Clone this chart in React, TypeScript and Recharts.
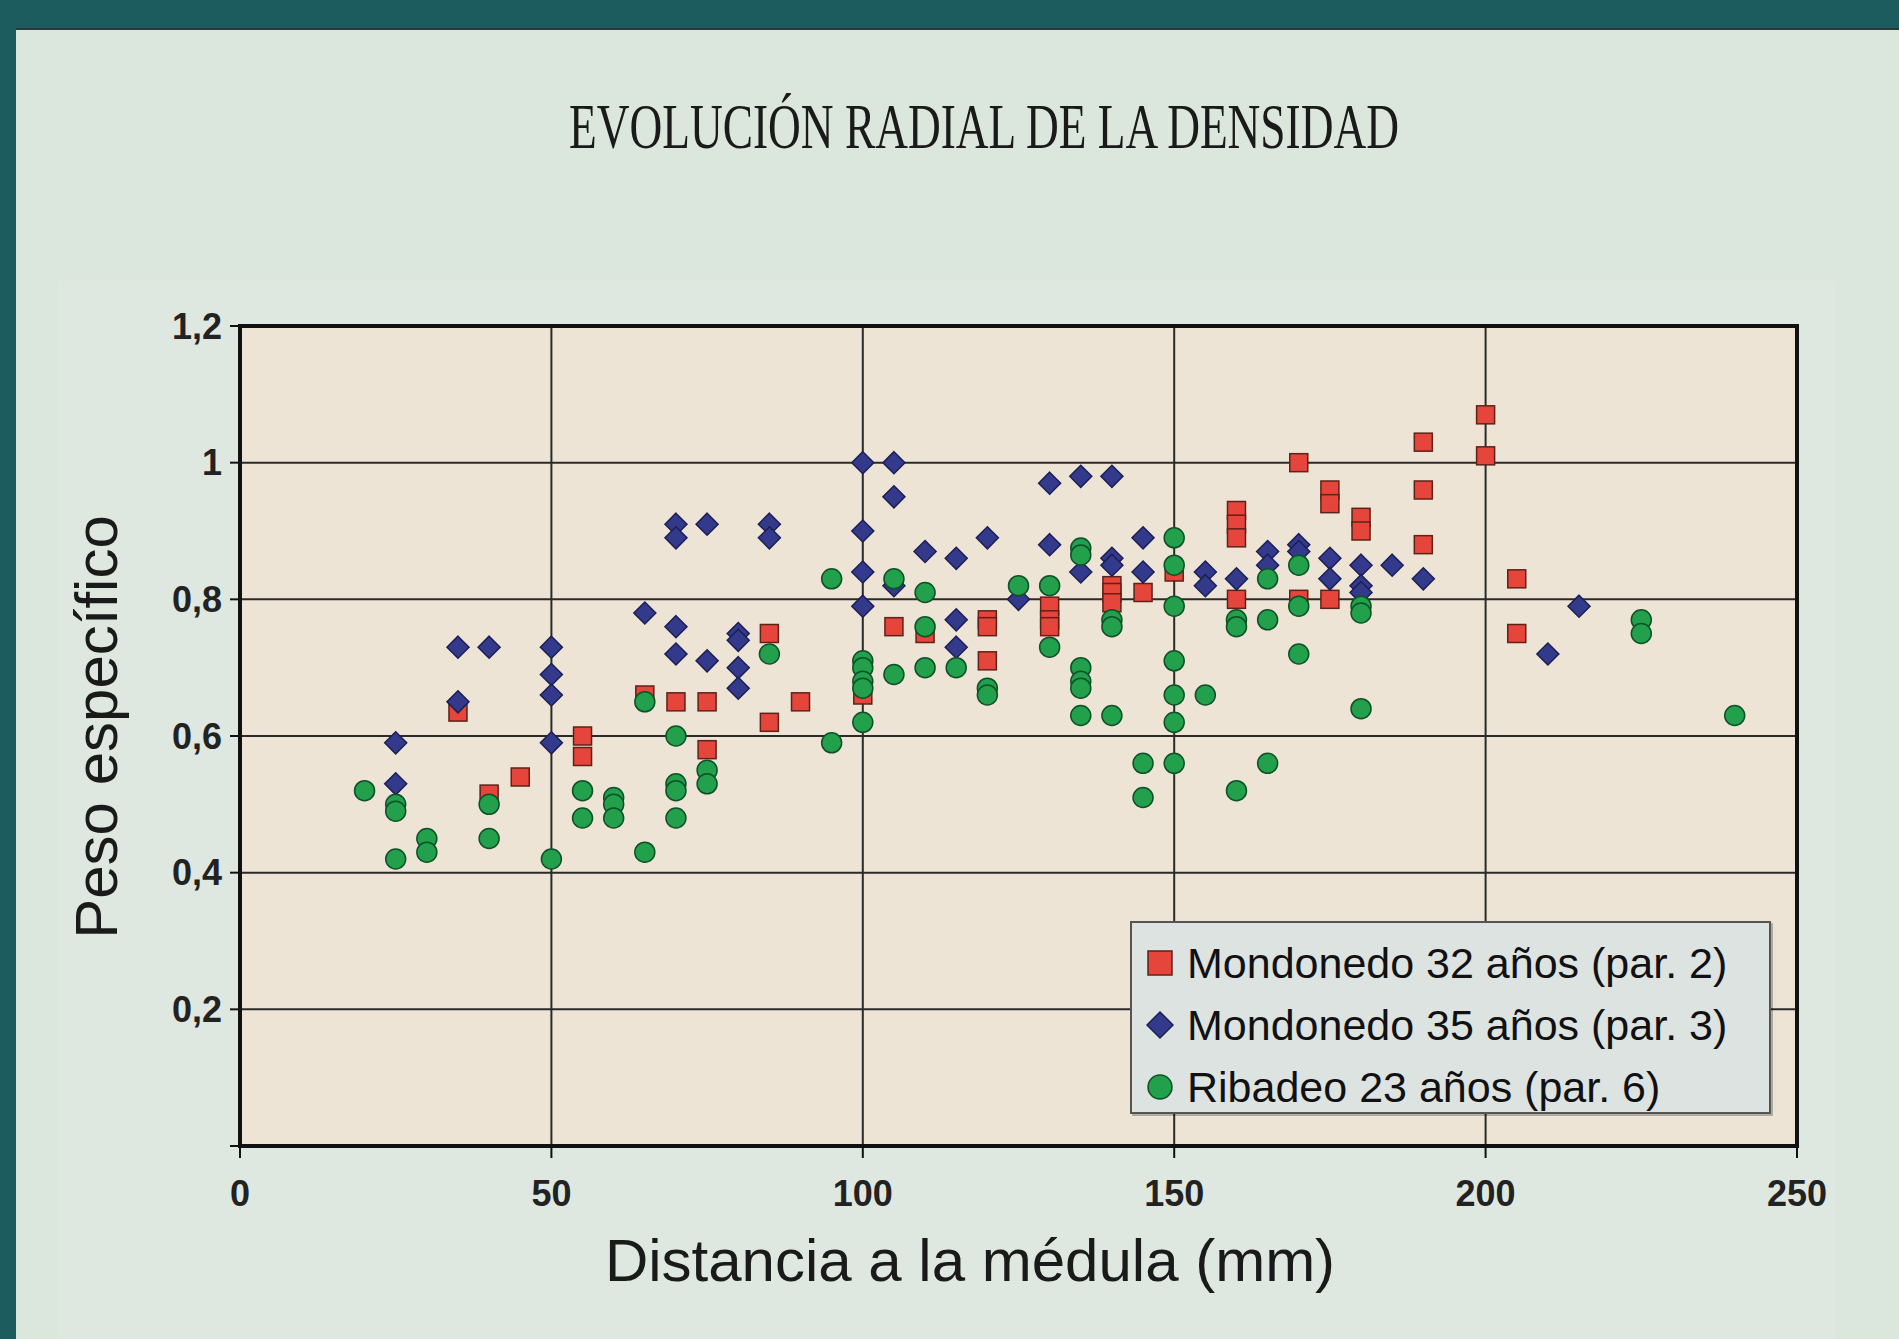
import React from 'react';
import {
  ScatterChart,
  Scatter,
  XAxis,
  YAxis,
  CartesianGrid,
  ReferenceArea,
  Legend,
  Label,
} from 'recharts';

const xTicks = [0, 50, 100, 150, 200, 250];
const yTicks = [0, 0.2, 0.4, 0.6, 0.8, 1, 1.2];

// Mondonedo 32 años (par. 2)
const mondonedo32 = [
  { x: 35, y: 0.635 }, { x: 40, y: 0.515 }, { x: 45, y: 0.54 }, { x: 55, y: 0.6 },
  { x: 55, y: 0.57 }, { x: 65, y: 0.66 }, { x: 70, y: 0.65 }, { x: 75, y: 0.65 },
  { x: 75, y: 0.58 }, { x: 85, y: 0.75 }, { x: 85, y: 0.62 }, { x: 90, y: 0.65 },
  { x: 100, y: 0.66 }, { x: 105, y: 0.76 }, { x: 110, y: 0.75 }, { x: 120, y: 0.77 },
  { x: 120, y: 0.76 }, { x: 120, y: 0.71 }, { x: 130, y: 0.79 }, { x: 130, y: 0.77 },
  { x: 130, y: 0.76 }, { x: 140, y: 0.82 }, { x: 140, y: 0.81 }, { x: 140, y: 0.795 },
  { x: 145, y: 0.81 }, { x: 150, y: 0.84 }, { x: 160, y: 0.93 }, { x: 160, y: 0.91 },
  { x: 160, y: 0.89 }, { x: 160, y: 0.8 }, { x: 170, y: 1.0 }, { x: 170, y: 0.8 },
  { x: 175, y: 0.96 }, { x: 175, y: 0.94 }, { x: 175, y: 0.8 }, { x: 180, y: 0.92 },
  { x: 180, y: 0.9 }, { x: 190, y: 1.03 }, { x: 190, y: 0.96 }, { x: 190, y: 0.88 },
  { x: 200, y: 1.07 }, { x: 200, y: 1.01 }, { x: 205, y: 0.83 }, { x: 205, y: 0.75 },
];

// Mondonedo 35 años (par. 3)
const mondonedo35 = [
  { x: 25, y: 0.59 }, { x: 25, y: 0.53 }, { x: 35, y: 0.73 }, { x: 35, y: 0.65 },
  { x: 40, y: 0.73 }, { x: 50, y: 0.73 }, { x: 50, y: 0.69 }, { x: 50, y: 0.66 },
  { x: 50, y: 0.59 }, { x: 65, y: 0.78 }, { x: 70, y: 0.91 }, { x: 70, y: 0.89 },
  { x: 70, y: 0.76 }, { x: 70, y: 0.72 }, { x: 75, y: 0.91 }, { x: 75, y: 0.71 },
  { x: 80, y: 0.75 }, { x: 80, y: 0.74 }, { x: 80, y: 0.7 }, { x: 80, y: 0.67 },
  { x: 85, y: 0.91 }, { x: 85, y: 0.89 }, { x: 100, y: 1.0 }, { x: 100, y: 0.9 },
  { x: 100, y: 0.84 }, { x: 100, y: 0.79 }, { x: 105, y: 1.0 }, { x: 105, y: 0.95 },
  { x: 105, y: 0.82 }, { x: 110, y: 0.87 }, { x: 115, y: 0.86 }, { x: 115, y: 0.77 },
  { x: 115, y: 0.73 }, { x: 120, y: 0.89 }, { x: 125, y: 0.8 }, { x: 130, y: 0.97 },
  { x: 130, y: 0.88 }, { x: 135, y: 0.98 }, { x: 135, y: 0.84 }, { x: 140, y: 0.98 },
  { x: 140, y: 0.86 }, { x: 140, y: 0.85 }, { x: 145, y: 0.89 }, { x: 145, y: 0.84 },
  { x: 155, y: 0.84 }, { x: 155, y: 0.82 }, { x: 160, y: 0.83 }, { x: 165, y: 0.87 },
  { x: 165, y: 0.85 }, { x: 170, y: 0.88 }, { x: 170, y: 0.87 }, { x: 175, y: 0.86 },
  { x: 175, y: 0.83 }, { x: 180, y: 0.85 }, { x: 180, y: 0.82 }, { x: 180, y: 0.81 },
  { x: 185, y: 0.85 }, { x: 190, y: 0.83 }, { x: 210, y: 0.72 }, { x: 215, y: 0.79 },
];

// Ribadeo 23 años (par. 6)
const ribadeo23 = [
  { x: 20, y: 0.52 }, { x: 25, y: 0.5 }, { x: 25, y: 0.49 }, { x: 25, y: 0.42 },
  { x: 30, y: 0.45 }, { x: 30, y: 0.43 }, { x: 40, y: 0.5 }, { x: 40, y: 0.45 },
  { x: 50, y: 0.42 }, { x: 55, y: 0.52 }, { x: 55, y: 0.48 }, { x: 60, y: 0.51 },
  { x: 60, y: 0.5 }, { x: 60, y: 0.48 }, { x: 65, y: 0.65 }, { x: 65, y: 0.43 },
  { x: 70, y: 0.6 }, { x: 70, y: 0.53 }, { x: 70, y: 0.52 }, { x: 70, y: 0.48 },
  { x: 75, y: 0.55 }, { x: 75, y: 0.53 }, { x: 85, y: 0.72 }, { x: 95, y: 0.83 },
  { x: 95, y: 0.59 }, { x: 100, y: 0.71 }, { x: 100, y: 0.7 }, { x: 100, y: 0.68 },
  { x: 100, y: 0.67 }, { x: 100, y: 0.62 }, { x: 105, y: 0.83 }, { x: 105, y: 0.69 },
  { x: 110, y: 0.81 }, { x: 110, y: 0.76 }, { x: 110, y: 0.7 }, { x: 115, y: 0.7 },
  { x: 120, y: 0.67 }, { x: 120, y: 0.66 }, { x: 125, y: 0.82 }, { x: 130, y: 0.82 },
  { x: 130, y: 0.73 }, { x: 135, y: 0.875 }, { x: 135, y: 0.865 }, { x: 135, y: 0.7 },
  { x: 135, y: 0.68 }, { x: 135, y: 0.67 }, { x: 135, y: 0.63 }, { x: 140, y: 0.77 },
  { x: 140, y: 0.76 }, { x: 140, y: 0.63 }, { x: 145, y: 0.56 }, { x: 145, y: 0.51 },
  { x: 150, y: 0.89 }, { x: 150, y: 0.85 }, { x: 150, y: 0.79 }, { x: 150, y: 0.71 },
  { x: 150, y: 0.66 }, { x: 150, y: 0.62 }, { x: 150, y: 0.56 }, { x: 155, y: 0.66 },
  { x: 160, y: 0.77 }, { x: 160, y: 0.76 }, { x: 160, y: 0.52 }, { x: 165, y: 0.83 },
  { x: 165, y: 0.77 }, { x: 165, y: 0.56 }, { x: 170, y: 0.85 }, { x: 170, y: 0.79 },
  { x: 170, y: 0.72 }, { x: 180, y: 0.79 }, { x: 180, y: 0.78 }, { x: 180, y: 0.64 },
  { x: 225, y: 0.77 }, { x: 225, y: 0.75 }, { x: 240, y: 0.63 },
];

const RED = '#e5453a';
const BLUE = '#333a8c';
const GREEN = '#22a04b';

const SANS = '"Liberation Sans", Arial, sans-serif';

function squareMark(cx: number, cy: number, s: number) {
  return (
    <rect x={cx - s / 2} y={cy - s / 2} width={s} height={s} fill={RED} stroke="#5e2219" strokeWidth={1.5} />
  );
}

function diamondMark(cx: number, cy: number, r: number) {
  return (
    <path
      d={`M${cx},${cy - r}L${cx + r},${cy}L${cx},${cy + r}L${cx - r},${cy}Z`}
      fill={BLUE}
      stroke="#1c1f55"
      strokeWidth={1.5}
    />
  );
}

function circleMark(cx: number, cy: number, r: number) {
  return <circle cx={cx} cy={cy} r={r} fill={GREEN} stroke="#0e5128" strokeWidth={1.5} />;
}

const legendRows = [
  { name: 'Mondonedo 32 años (par. 2)', mark: (cx: number, cy: number) => squareMark(cx, cy, 24) },
  { name: 'Mondonedo 35 años (par. 3)', mark: (cx: number, cy: number) => diamondMark(cx, cy, 13) },
  { name: 'Ribadeo 23 años (par. 6)', mark: (cx: number, cy: number) => circleMark(cx, cy, 12) },
];

function LegendBox() {
  return (
    <div
      style={{
        width: 641,
        height: 193,
        boxSizing: 'border-box',
        background: '#dde3e1',
        border: '2px solid #555',
        boxShadow: '2px 2px 0 rgba(0,0,0,0.25)',
      }}
    >
      <svg width={637} height={189}>
        {legendRows.map((r, i) => (
          <g key={r.name}>
            {r.mark(28, 40 + i * 62)}
            <text x={55} y={40 + i * 62 + 15} fontSize={43} fontFamily={SANS} fill="#111">
              {r.name}
            </text>
          </g>
        ))}
      </svg>
    </div>
  );
}

const fmtY = (v: number) => (v === 0 ? '' : String(v).replace('.', ','));

export default function App() {
  return (
    <div
      style={{
        position: 'absolute',
        left: 0,
        top: 0,
        width: 1899,
        height: 1339,
        background: '#dbe6dc',
        overflow: 'hidden',
      }}
    >
      <div style={{ position: 'absolute', left: 58, top: 281, width: 1777, height: 1058, background: '#dfe7e1' }} />
      <div style={{ position: 'absolute', left: 0, top: 0, width: 1899, height: 28, background: '#1d5c5e', borderBottom: '2px solid #2b3a3a' }} />
      <div style={{ position: 'absolute', left: 0, top: 0, width: 16, height: 1339, background: '#1d5c5e' }} />
      <svg style={{ position: 'absolute', left: 0, top: 0 }} width={1899} height={200}>
        <text
          x={569}
          y={148}
          fontSize={64}
          fontFamily='"Liberation Serif", "Times New Roman", serif'
          fill="#1a1a1a"
          textLength={830}
          lengthAdjust="spacingAndGlyphs"
        >
          EVOLUCIÓN RADIAL DE LA DENSIDAD
        </text>
      </svg>
      <div style={{ position: 'absolute', left: 0, top: 0 }}>
        <ScatterChart
          width={1899}
          height={1339}
          margin={{ top: 326, right: 102, bottom: 113, left: 140 }}
          style={{ fontFamily: SANS }}
        >
          <CartesianGrid stroke="#2a2a2a" strokeWidth={2} fill="#eee4d6" />
          <XAxis
            type="number"
            dataKey="x"
            domain={[0, 250]}
            ticks={xTicks}
            height={80}
            tickSize={12}
            tickMargin={22}
            axisLine={{ stroke: '#111', strokeWidth: 4 }}
            tickLine={{ stroke: '#111', strokeWidth: 2 }}
            tick={{ fontSize: 36, fontWeight: 'bold', fill: '#222' }}
          >
            <Label
              content={() => (
                <text x={970} y={1281} textAnchor="middle" fontSize={60} fontFamily={SANS} fill="#1a1a1a">
                  Distancia a la médula (mm)
                </text>
              )}
            />
          </XAxis>
          <YAxis
            type="number"
            dataKey="y"
            domain={[0, 1.2]}
            ticks={yTicks}
            width={100}
            tickSize={10}
            tickMargin={8}
            tickFormatter={fmtY}
            axisLine={{ stroke: '#111', strokeWidth: 4 }}
            tickLine={{ stroke: '#111', strokeWidth: 2 }}
            tick={{ fontSize: 36, fontWeight: 'bold', fill: '#222' }}
          >
            <Label
              content={() => (
                <text
                  x={117}
                  y={727}
                  transform="rotate(-90 117 727)"
                  textAnchor="middle"
                  fontSize={60}
                  fontFamily={SANS}
                  fill="#1a1a1a"
                >
                  Peso específico
                </text>
              )}
            />
          </YAxis>
          <ReferenceArea x1={0} x2={250} y1={0} y2={1.2} fill="none" fillOpacity={0} stroke="#111" strokeWidth={4} />
          <Scatter
            name="Mondonedo 32 años (par. 2)"
            data={mondonedo32}
            isAnimationActive={false}
            shape={(p: any) => squareMark(p.cx, p.cy, 18)}
          />
          <Scatter
            name="Mondonedo 35 años (par. 3)"
            data={mondonedo35}
            isAnimationActive={false}
            shape={(p: any) => diamondMark(p.cx, p.cy, 11)}
          />
          <Scatter
            name="Ribadeo 23 años (par. 6)"
            data={ribadeo23}
            isAnimationActive={false}
            shape={(p: any) => circleMark(p.cx, p.cy, 10)}
          />
          <Legend
            layout="vertical"
            align="center"
            verticalAlign="middle"
            content={() => <LegendBox />}
            wrapperStyle={{ left: 1130, top: 921, width: 641, height: 193 }}
          />
        </ScatterChart>
      </div>
    </div>
  );
}
